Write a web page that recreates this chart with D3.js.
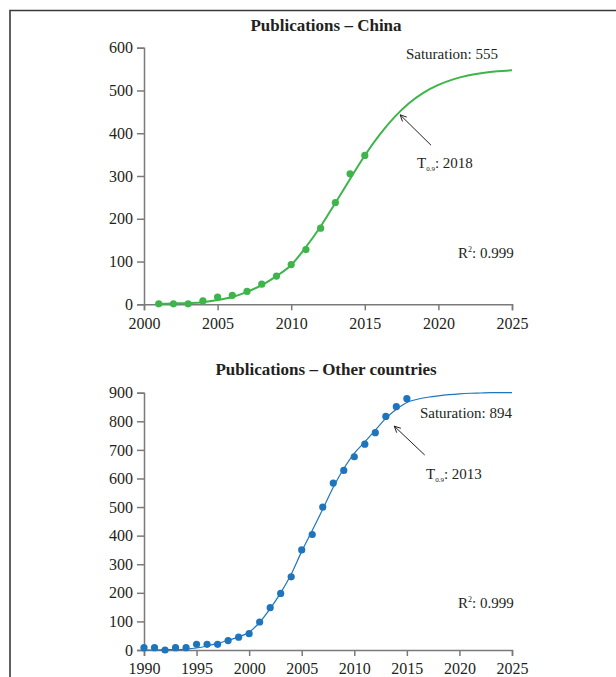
<!DOCTYPE html>
<html><head><meta charset="utf-8">
<script src="https://cdn.jsdelivr.net/npm/d3@7"></script>
<style>
body{margin:0;background:#fff}
svg{display:block}
text{font-family:"Liberation Serif","Times New Roman",serif;fill:#231f20}
</style>
</head><body>
<svg id="c" width="616" height="677"></svg>
<script>
// ---- Data ----
const chinaYears  = [2001,2002,2003,2004,2005,2006,2007,2008,2009,2010,2011,2012,2013,2014,2015];
const chinaValues = [1,1,1,8,17,21,30,47,66,93,128,178,238,305,348];
const chinaFitYears  = [2001,2002,2003,2004,2005,2006,2007,2008,2009,2010,2011,2012,2013,2014,2015,2016,2017,2018,2019,2020,2021,2022,2023,2024,2025];
const chinaFitValues = [1,2,3,5,10,17,29,45,66,92,134,182,237,293,348,396,437,470,495,513,526,535,541,545,547];
const chinaXTicks = [2000,2005,2010,2015,2020,2025];
const chinaYTicks = [0,100,200,300,400,500,600];

const otherYears  = [1990,1991,1992,1993,1994,1995,1996,1997,1998,1999,2000,2001,2002,2003,2004,2005,2006,2007,2008,2009,2010,2011,2012,2013,2014,2015];
const otherValues = [8,8,0,8,8,20,20,20,33,45,57,98,148,198,256,350,404,500,584,628,676,720,760,817,851,879];
const otherFitYears  = [1990,1991,1992,1993,1994,1995,1996,1997,1998,1999,2000,2001,2002,2003,2004,2005,2006,2007,2008,2009,2010,2011,2012,2013,2014,2015,2016,2017,2018,2019,2020,2021,2022,2023,2024,2025];
const otherFitValues = [0,0,1,1,3,7,14,23,34,46,62,97,145,200,265,345,418,492,569,635,688,728,769,810,842,866,877,884,889,893,896,898,899,900,900,900];
const otherXTicks = [1990,1995,2000,2005,2010,2015,2020,2025];
const otherYTicks = [0,100,200,300,400,500,600,700,800,900];

const titles = ["Publications \u2013 China","Publications \u2013 Other countries"];
const saturationLabels = ["Saturation: 555","Saturation: 894"];
const t09Labels = [": 2018",": 2013"];
const r2Labels = [": 0.999",": 0.999"];
// arrow [tailYear, tailValue, tipYear, tipValue]
const chinaArrow = [2019.5, 372, 2017.4, 443];
const otherArrow = [2016.7, 682, 2013.8, 783];

const svg = d3.select("#c");

// frame
svg.append("path").attr("d","M10,677V10.5H616").attr("fill","none").attr("stroke","#3a3a3a").attr("stroke-width",1.6);

const AX = "#7a7a7a";

function panel(cfg){
  const g = svg.append("g");
  const x = d3.scaleLinear().domain(cfg.xDomain).range([144,512]);
  const y = d3.scaleLinear().domain(cfg.yDomain).range(cfg.yRange);

  const xa = g.append("g").attr("transform",`translate(0,${cfg.yRange[0]})`)
    .call(d3.axisBottom(x).tickValues(cfg.xTicks).tickFormat(d3.format("d")).tickSize(6).tickPadding(7));
  const ya = g.append("g").attr("transform","translate(144,0)")
    .call(d3.axisLeft(y).tickValues(cfg.yTicks).tickSize(7).tickPadding(4));
  [xa,ya].forEach(a=>{
    a.selectAll("path,line").attr("stroke",AX).attr("stroke-width",1.5);
    a.selectAll("text").style("font-family",'"Liberation Serif","Times New Roman",serif').style("font-size","16px").attr("fill","#231f20");
  });

  // title
  g.append("text").attr("x",326).attr("y",cfg.titleY).attr("text-anchor","middle")
    .style("font-size","17px").style("font-weight","bold").text(cfg.title);

  // fitted curve
  const line = d3.line().x((d,i)=>x(cfg.fitYears[i])).y(d=>y(d)).curve(d3.curveMonotoneX);
  g.append("path").datum(cfg.fitValues).attr("d",line).attr("fill","none")
    .attr("stroke",cfg.color).attr("stroke-width",cfg.lineWidth);

  // points
  g.selectAll("circle.p").data(cfg.values).join("circle")
    .attr("cx",(d,i)=>x(cfg.years[i])).attr("cy",d=>y(d)).attr("r",3.6).attr("fill",cfg.color);

  // annotations
  g.append("text").attr("x",cfg.satX).attr("y",cfg.satY).attr("text-anchor","end")
    .style("font-size","15px").text(cfg.sat);

  const t = g.append("text").attr("x",cfg.tX).attr("y",cfg.tY).style("font-size","15px");
  t.append("tspan").text("T");
  t.append("tspan").attr("dy",3).style("font-size","7px").text("0.9");
  t.append("tspan").attr("dy",-3).text(cfg.t09);

  const r = g.append("text").attr("x",cfg.rX).attr("y",cfg.rY).style("font-size","15px");
  r.append("tspan").text("R");
  r.append("tspan").attr("dy",-6).style("font-size","8px").text("2");
  r.append("tspan").attr("dy",6).text(cfg.r2);

  // arrow
  const [ty0,tv0,ty1,tv1] = cfg.arrow;
  const x0=x(ty0), y0=y(tv0), x1=x(ty1), y1=y(tv1);
  g.append("line").attr("x1",x0).attr("y1",y0).attr("x2",x1).attr("y2",y1)
    .attr("stroke","#231f20").attr("stroke-width",1);
  const ang = Math.atan2(y0-y1,x0-x1), L=7, sp=0.45;
  g.append("path").attr("d",`M${x1+L*Math.cos(ang+sp)},${y1+L*Math.sin(ang+sp)}L${x1},${y1}L${x1+L*Math.cos(ang-sp)},${y1+L*Math.sin(ang-sp)}`)
    .attr("fill","none").attr("stroke","#231f20").attr("stroke-width",1);
}

panel({xDomain:[2000,2025],yDomain:[0,600],yRange:[304.3,47.7],xTicks:chinaXTicks,yTicks:chinaYTicks,
  title:titles[0],titleY:31,fitYears:chinaFitYears,fitValues:chinaFitValues,years:chinaYears,values:chinaValues,
  color:"#3db54a",lineWidth:2,sat:saturationLabels[0],satX:498,satY:59,tX:417,tY:168,t09:t09Labels[0],rX:458,rY:258,r2:r2Labels[0],arrow:chinaArrow});

panel({xDomain:[1990,2025],yDomain:[0,900],yRange:[650,392.7],xTicks:otherXTicks,yTicks:otherYTicks,
  title:titles[1],titleY:375,fitYears:otherFitYears,fitValues:otherFitValues,years:otherYears,values:otherValues,
  color:"#1f75bd",lineWidth:1.2,sat:saturationLabels[1],satX:512,satY:418,tX:426,tY:479,t09:t09Labels[1],rX:458,rY:608,r2:r2Labels[1],arrow:otherArrow});
</script>
</body></html>
